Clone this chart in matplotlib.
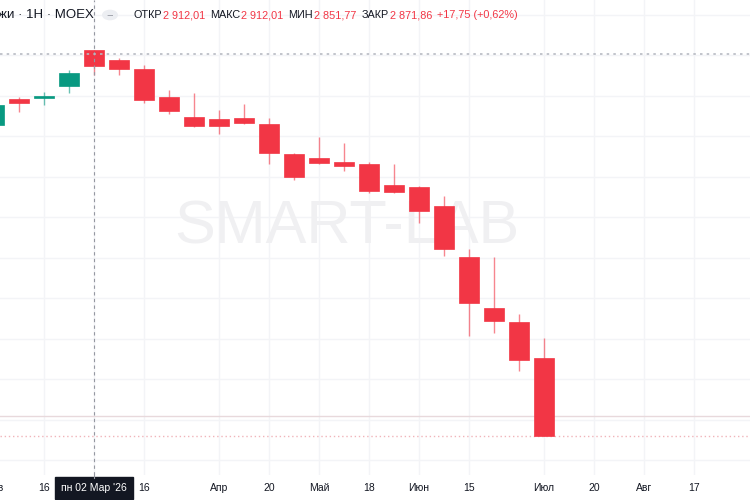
import matplotlib
matplotlib.use("Agg")
import matplotlib.pyplot as plt
import matplotlib.transforms as mtransforms
from matplotlib.patches import Circle

plt.rcParams['font.family'] = ['Liberation Sans', 'DejaVu Sans']

# weekly candles, first = week of 02 Feb 2026
opens  = [2727.2, 2791.4, 2793.8, 2823.5, 2912.01, 2887.7, 2865.4, 2796.3, 2746.9, 2742.0, 2744.4, 2729.6,
          2655.6, 2645.7, 2635.8, 2630.9, 2579.0, 2574.1, 2527.2, 2401.3, 2275.3, 2240.8, 2151.9]
highs  = [2784.0, 2796.3, 2808.6, 2863.0, 2912.01, 2892.6, 2875.3, 2813.6, 2806.2, 2764.2, 2779.0, 2744.4,
          2658.0, 2697.5, 2682.7, 2635.8, 2630.9, 2576.6, 2551.9, 2421.0, 2401.3, 2260.5, 2201.3]
lows   = [2720.0, 2759.3, 2776.6, 2806.2, 2851.77, 2850.6, 2781.5, 2754.3, 2722.2, 2704.9, 2729.6, 2630.9,
          2591.4, 2630.9, 2613.6, 2559.3, 2559.3, 2485.2, 2403.7, 2206.2, 2213.6, 2119.8, 1959.3]
closes = [2776.6, 2781.5, 2798.8, 2855.6, 2871.86, 2865.4, 2788.9, 2761.7, 2724.7, 2724.7, 2732.1, 2658.0,
          2598.8, 2633.4, 2626.0, 2564.2, 2561.7, 2514.8, 2421.0, 2287.7, 2243.2, 2146.9, 1959.3]

tick_idx = [0, 2, 6, 9, 11, 13, 15, 17, 19, 22, 24, 26, 28]
tick_labels = ['Фев', '16', '16', 'Апр', '20', 'Май', '18', 'Июн', '15', 'Июл', '20', 'Авг', '17']
grid_idx = [0, 2, 4, 6, 9, 11, 13, 15, 17, 19, 22, 24, 26, 28]
grid_prices = [1900, 2000, 2100, 2200, 2300, 2400, 2500, 2600, 2700, 2800, 2900, 3000]

cross_idx = 4
cross_price = 2902.5
cross_label = "пн 02 Мар '26"
hline_price = 2007.5
last_price = 1959.3

header_name = "жи · 1Н · MOEX"
header_items = [("ОТКР", "2 912,01"), ("МАКС", "2 912,01"), ("МИН", "2 851,77"), ("ЗАКР", "2 871,86")]
header_change = "+17,75 (+0,62%)"

UP = '#089981'
DOWN = '#F23645'
TXT = '#131722'

W, H = 750, 500
fig = plt.figure(figsize=(7.5, 5), dpi=100)
fig.patch.set_facecolor('white')
bottom_px = 475
ax = fig.add_axes([0, (H - bottom_px) / H, 1, bottom_px / H])
ax.set_xlim(0.24, 30.24)
ax.set_ylim(2900 - (bottom_px - 55) * 100 / 40.5, 2900 + 55 * 100 / 40.5)
for s in ax.spines.values():
    s.set_visible(False)
ax.set_xticks([])
ax.set_yticks([])

# grid
for g in grid_prices:
    ax.axhline(g, color='#f3f4f7', lw=1, zorder=0)
for g in grid_idx:
    ax.axvline(g, color='#f3f4f7', lw=1, zorder=0)

# watermark (behind candles)
ax.text(347 / W, 1 - 228 / bottom_px, 'SMART-LAB', transform=ax.transAxes, fontsize=44,
        color='#f0f0f2', ha='center', va='center', zorder=0.5)

# price lines
ax.axhline(hline_price, color='#e8d9dc', lw=1, zorder=1)
ax.axhline(last_price, color='#f0b4ba', lw=1, ls=(0, (1, 2)), zorder=1)

# candles
for i, (o, h, l, c) in enumerate(zip(opens, highs, lows, closes)):
    col = UP if c >= o else DOWN
    ax.vlines(i, l, h, color=col, lw=1, alpha=0.6, zorder=2)
    lo, hi = min(o, c), max(o, c)
    ax.bar(i, max(hi - lo, 1.5), bottom=lo, width=0.78, color=col, edgecolor=col, lw=0.5, zorder=3)

# crosshair
ax.axvline(cross_idx, color='#9598a1', lw=0.8, ls=(0, (3, 3)), zorder=4)
ax.axhline(cross_price, color='#b8bbc3', lw=1.2, ls=(0, (1.5, 2.5)), zorder=4)

# x labels
trans = mtransforms.blended_transform_factory(ax.transData, fig.transFigure)
for idx, lab in zip(tick_idx, tick_labels):
    ax.text(idx, 1 - 488 / H, lab, transform=trans, ha='center', va='center',
            fontsize=7.5, color=TXT, clip_on=False)
ax.text(cross_idx, 1 - 488 / H, cross_label, transform=trans, ha='center', va='center',
        fontsize=7.5, color='white', clip_on=False,
        bbox=dict(boxstyle='square,pad=0.55', fc='#131722', ec='#131722'))
fig.add_artist(plt.Line2D([94 / W, 94 / W], [1 - 478 / H, 1 - 475 / H], color='#9598a1', lw=0.8))

# header
fig.text(-2 / W, 1 - 15 / H, header_name, fontsize=9.5, color=TXT, ha='left', va='center')
circ = Circle((110 / W, 1 - 15 / H), 8 / W, transform=fig.transFigure, facecolor='#eceef2',
              edgecolor='none')
fig.add_artist(circ)
fig.text(110 / W, 1 - 15.5 / H, '−', fontsize=8, color='#9598a1', ha='center', va='center')

renderer = fig.canvas.get_renderer()
x = 133.0
pieces = []
for lab, val in header_items:
    pieces.append((lab, TXT, 1.0))
    pieces.append((val, DOWN, 5.0))
pieces.append((header_change, DOWN, 0.0))
for txt, col, gap in pieces:
    t = fig.text(x / W, 1 - 15 / H, txt, fontsize=7.8, color=col, ha='left', va='center')
    w = t.get_window_extent(renderer=renderer).width
    x += w + gap

fig.savefig('out.png', dpi=100, facecolor='white')
